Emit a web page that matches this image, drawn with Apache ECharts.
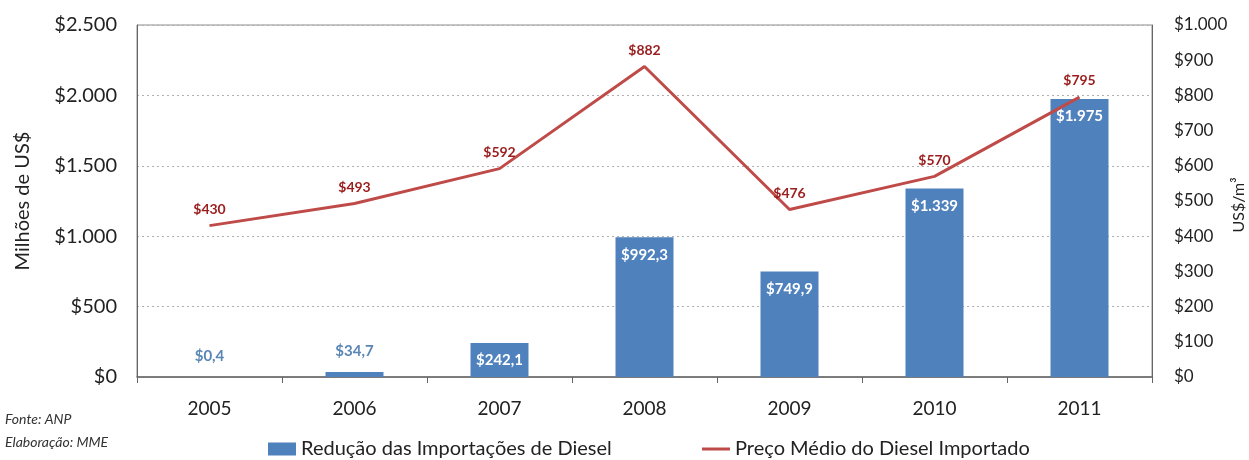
<!DOCTYPE html>
<html>
<head>
<meta charset="utf-8">
<script src="https://cdn.jsdelivr.net/npm/echarts@6/dist/echarts.min.js"></script>
<style>html,body{margin:0;padding:0;background:#fff}#c{width:1249px;height:460px}</style>
</head>
<body>
<div id="c"></div>
<script>
var categories = ['2005','2006','2007','2008','2009','2010','2011'];
var reducaoValues = [0.4, 34.7, 242.1, 992.3, 749.9, 1339, 1975];
var reducaoLabels = ['$0,4','$34,7','$242,1','$992,3','$749,9','$1.339','$1.975'];
var precoValues = [430, 493, 592, 882, 476, 570, 795];
var leftTicks = ['$0','$500','$1.000','$1.500','$2.000','$2.500'];
var rightTicks = ['$0','$100','$200','$300','$400','$500','$600','$700','$800','$900','$1.000'];
var rightAxisTitle = 'US$/m³';

var FONT = 'Lato, "Liberation Sans", sans-serif';
var chart = echarts.init(document.getElementById('c'));

var barData = reducaoValues.map(function (v, i) {
  var outside = v < 100;
  return {
    value: v,
    label: {
      show: true,
      position: outside ? 'top' : 'insideTop',
      distance: outside ? 13 : 10,
      color: outside ? '#5a86b5' : '#ffffff',
      fontWeight: 'bold',
      fontSize: 15,
      fontFamily: FONT,
      formatter: reducaoLabels[i]
    }
  };
});

chart.setOption({
  animation: false,
  textStyle: { fontFamily: FONT },
  grid: { left: 137, right: 97, top: 25, bottom: 83, outerBoundsMode: 'none', containLabel: false,
          show: true, borderColor: '#8c8c8c', borderWidth: 1 },
  legend: [
    {
      data: [{ name: 'Redução das Importações de Diesel', icon: 'rect' }],
      left: 263, top: 434, itemWidth: 28, itemHeight: 13, itemGap: 2,
      textStyle: { fontSize: 20, color: '#222', fontFamily: FONT }
    },
    {
      data: [{ name: 'Preço Médio do Diesel Importado', icon: 'path://M0,0h28v3h-28z' }],
      left: 697, top: 434, itemWidth: 28, itemHeight: 3, itemGap: 2,
      textStyle: { fontSize: 20, color: '#222', fontFamily: FONT }
    }
  ],
  graphic: [
    { type: 'text', left: 5, top: 412, style: { text: 'Fonte: ANP', font: 'italic 14px ' + FONT, fill: '#333' } },
    { type: 'text', left: 5, top: 435, style: { text: 'Elaboração: MME', font: 'italic 14px ' + FONT, fill: '#333' } },
    { type: 'text', x: 1239, y: 205, rotation: Math.PI / 2,
      style: { text: rightAxisTitle, font: '16px ' + FONT, fill: '#222', align: 'center', verticalAlign: 'middle' } }
  ],
  xAxis: {
    type: 'category',
    data: categories,
    axisLine: { lineStyle: { color: '#666', width: 1.5 } },
    axisTick: { show: true, alignWithLabel: false, length: 6, lineStyle: { color: '#666' } },
    axisLabel: { fontSize: 19, color: '#222', margin: 22, fontFamily: FONT }
  },
  yAxis: [
    {
      type: 'value', min: 0, max: 2500, interval: 500,
      name: 'Milhões de US$', nameLocation: 'middle', nameGap: 104, nameRotate: 90,
      nameTextStyle: { fontSize: 20, color: '#222', fontFamily: FONT },
      axisLine: { show: true, lineStyle: { color: '#666' } },
      axisTick: { show: false },
      axisLabel: { fontSize: 20, color: '#222', margin: 20, fontFamily: FONT,
        formatter: function (v) { return leftTicks[Math.round(v / 500)]; } },
      splitLine: { show: true, lineStyle: { color: '#b0b0b0', type: [2, 3], width: 1 } }
    },
    {
      type: 'value', min: 0, max: 1000, interval: 100,
      axisLine: { show: true, lineStyle: { color: '#666' } },
      axisTick: { show: false },
      axisLabel: { fontSize: 17, color: '#222', margin: 22, fontFamily: FONT,
        formatter: function (v) { return rightTicks[Math.round(v / 100)]; } },
      splitLine: { show: false }
    }
  ],
  series: [
    {
      name: 'Redução das Importações de Diesel',
      type: 'bar',
      yAxisIndex: 0,
      barWidth: '40%',
      itemStyle: { color: '#4f81bd' },
      data: barData
    },
    {
      name: 'Preço Médio do Diesel Importado',
      type: 'line',
      yAxisIndex: 1,
      symbol: 'circle',
      symbolSize: 0.5,
      showSymbol: true,
      lineStyle: { color: '#bf4b49', width: 3 },
      itemStyle: { color: '#bf4b49' },
      label: {
        show: true, position: 'top', distance: 9,
        color: '#9b1c1c', fontWeight: 'bold', fontSize: 14, fontFamily: FONT,
        formatter: function (p) { return '$' + p.value; }
      },
      data: precoValues
    }
  ]
});
</script>
</body>
</html>
